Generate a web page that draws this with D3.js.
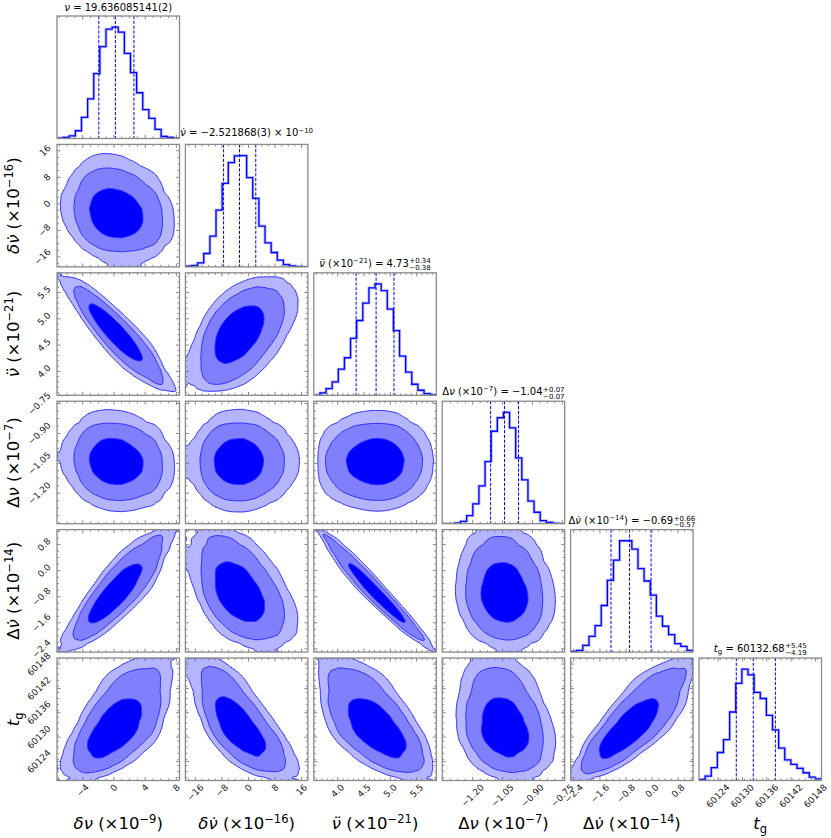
<!DOCTYPE html>
<html>
<head>
    <meta charset="utf-8">
    <title>Corner plot</title>
    <script type="text/javascript" src="https://cdn.jsdelivr.net/npm/d3@7"></script>
    <style type="text/css">
        html, body {
            margin: 0;
            background: #fff;
        }

        svg {
            display: block;
            font-family: "DejaVu Sans", sans-serif;
        }
    </style>
</head>

<body>

<svg id="chart" width="831" height="838"></svg>

<script type="text/javascript">
    // parameter ranges (same for x and y), quantile lines, ticks
    var ranges = [[-7.3, 8.4], [-19.0, 17.9], [3.545, 5.875], [-1.353, -0.738], [-2.5, 1.26], [60119.3, 60149.5]];
    var quantiles = [[-1.94, 0.18, 2.56], [-7.5, -2.7, 2.2], [4.35, 4.73, 5.07],
                     [-1.11, -1.04, -0.97], [-1.26, -0.69, -0.03], [60128.49, 60132.68, 60138.13]];
    var tickValues = [[-4, 0, 4, 8], [-16, -8, 0, 8, 16], [4.0, 4.5, 5.0, 5.5],
                      [-1.20, -1.05, -0.90, -0.75], [-2.4, -1.6, -0.8, 0.0, 0.8], [60124, 60130, 60136, 60142, 60148]];
    var tickLabels = [["−4", "0", "4", "8"], ["−16", "−8", "0", "8", "16"], ["4.0", "4.5", "5.0", "5.5"],
                      ["−1.20", "−1.05", "−0.90", "−0.75"], ["−2.4", "−1.6", "−0.8", "0.0", "0.8"],
                      ["60124", "60130", "60136", "60142", "60148"]];
    var minorSteps = [1, 2, 0.1, 0.0375, 0.2, 1.5];

    // 1D histogram counts, 20 bins over each range
    var hist0 = [1, 3, 8, 23, 63, 118, 193, 273, 325, 331, 316, 253, 196, 136, 86, 60, 27, 6, 3, 0];
    var hist1 = [2, 4, 12, 40, 92, 170, 250, 312, 332, 333, 267, 205, 122, 72, 43, 20, 7, 3, 1, 0];
    var hist2 = [0, 7, 20, 40, 78, 112, 170, 223, 275, 320, 332, 312, 257, 193, 117, 69, 33, 15, 5, 1];
    var hist3 = [0, 0, 2, 7, 24, 59, 112, 184, 274, 314, 330, 284, 195, 130, 67, 34, 9, 4, 1, 0];
    var hist4 = [2, 5, 20, 47, 79, 139, 214, 274, 332, 332, 307, 249, 212, 170, 107, 77, 52, 25, 17, 5];
    var hist5 = [3, 13, 38, 83, 121, 203, 288, 330, 313, 261, 243, 193, 150, 96, 61, 48, 36, 23, 10, 5];
    var histograms = [hist0, hist1, hist2, hist3, hist4, hist5];

    // pairwise correlations (row param vs column param)
    var correlations = [
        [],
        [-0.15],
        [-0.9, 0.5],
        [-0.1, 0.0, 0.0],
        [0.85, -0.45, -0.97, -0.1],
        [0.6, -0.7, -0.62, -0.22, 0.8]
    ];
    var contourLevels = [0.675, 0.965, 0.996];

    // text pieces: [text, kind]
    var axisLabels = [
        [["δν", "i"], [" (×10", "r"], ["−9", "sup"], [")", "r"]],
        [["δν̇", "i"], [" (×10", "r"], ["−16", "sup"], [")", "r"]],
        [["ν̈", "i"], [" (×10", "r"], ["−21", "sup"], [")", "r"]],
        [["Δ", "r"], ["ν", "i"], [" (×10", "r"], ["−7", "sup"], [")", "r"]],
        [["Δ", "r"], ["ν̇", "i"], [" (×10", "r"], ["−14", "sup"], [")", "r"]],
        [["t", "i"], ["g", "sub"]]
    ];
    var titles = [
        [["ν", "i"], [" = 19.636085141(2)", "r"]],
        [["ν̇", "i"], [" = −2.521868(3) × 10", "r"], ["−10", "sup"]],
        [["ν̈", "i"], [" (×10", "r"], ["−21", "sup"], [") = 4.73", "r"]],
        [["Δ", "r"], ["ν", "i"], [" (×10", "r"], ["−7", "sup"], [") = −1.04", "r"]],
        [["Δ", "r"], ["ν̇", "i"], [" (×10", "r"], ["−14", "sup"], [") = −0.69", "r"]],
        [["t", "i"], ["g", "sub"], [" = 60132.68", "r"]]
    ];
    var titleErrors = [null, null, ["+0.34", "−0.38"], ["+0.07", "−0.07"], ["+0.66", "−0.57"], ["+5.45", "−4.19"]];

    var gridLeft = 57, gridTop = 16, step = 128.4, size = 122.5, M = 90;
    var titleGap = [5.5, 8, 6, 6, 5.5, 6.5];
    var fills = ["#b4b4ff", "#8080ff", "#0000ff"];
    var frameColor = "#8a8a8a", tickColor = "#6a6a6a";

    var svg = d3.select("#chart");
    var defs = svg.append("defs");

    function normInv(p) {
        var a = [-3.969683028665376e+01, 2.209460984245205e+02, -2.759285104469687e+02, 1.383577518672690e+02, -3.066479806614716e+01, 2.506628277459239e+00];
        var b = [-5.447609879822406e+01, 1.615858368580409e+02, -1.556989798598866e+02, 6.680131188771972e+01, -1.328068155288572e+01];
        var c = [-7.784894002430293e-03, -3.223964580411365e-01, -2.400758277161838e+00, -2.549732539343734e+00, 4.374664141464968e+00, 2.938163982698783e+00];
        var d = [7.784695709041462e-03, 3.224671290700398e-01, 2.445134137142996e+00, 3.754408661907416e+00];
        var q, r;
        if (p < 0.02425) {
            q = Math.sqrt(-2 * Math.log(p));
            return (((((c[0] * q + c[1]) * q + c[2]) * q + c[3]) * q + c[4]) * q + c[5]) / ((((d[0] * q + d[1]) * q + d[2]) * q + d[3]) * q + 1);
        }
        if (p > 1 - 0.02425) {
            q = Math.sqrt(-2 * Math.log(1 - p));
            return -(((((c[0] * q + c[1]) * q + c[2]) * q + c[3]) * q + c[4]) * q + c[5]) / ((((d[0] * q + d[1]) * q + d[2]) * q + d[3]) * q + 1);
        }
        q = p - 0.5;
        r = q * q;
        return (((((a[0] * r + a[1]) * r + a[2]) * r + a[3]) * r + a[4]) * r + a[5]) * q / (((((b[0] * r + b[1]) * r + b[2]) * r + b[3]) * r + b[4]) * r + 1);
    }

    // smooth marginal pdf/cdf from the histogram counts
    function makeMarginal(counts, range) {
        var n = counts.length, lo = range[0], hi = range[1], w = (hi - lo) / n;
        var centers = counts.map(function(c, k){ return lo + (k + 0.5) * w; });
        var pdf = d3.scaleLinear().domain(centers).range(counts.map(function(c){ return c + 0.5; })).clamp(true);
        var K = 400;
        var gx = d3.range(K + 1).map(function(k){ return lo + k * (hi - lo) / K; });
        var cum = [0];
        for (var k = 1; k <= K; k++) cum.push(cum[k - 1] + 0.5 * (pdf(gx[k - 1]) + pdf(gx[k])));
        var total = cum[K];
        var cdf = d3.scaleLinear().domain(gx).range(cum.map(function(v){ return v / total; })).clamp(true);
        return {pdf: pdf, cdf: cdf};
    }

    var marginals = histograms.map(function(h, k){ return makeMarginal(h, ranges[k]); });

    function clampP(p) { return Math.min(1 - 1e-6, Math.max(1e-6, p)); }

    function pairDensity(i, j) {
        var mx = marginals[j], my = marginals[i], rho = correlations[i][j];
        var rx = ranges[j], ry = ranges[i];
        var gx = d3.range(M).map(function(k){ return rx[0] + (k + 0.5) / M * (rx[1] - rx[0]); });
        var gy = d3.range(M).map(function(k){ return ry[0] + (k + 0.5) / M * (ry[1] - ry[0]); });
        var ux = gx.map(function(x){ return normInv(clampP(mx.cdf(x))); });
        var uy = gy.map(function(y){ return normInv(clampP(my.cdf(y))); });
        var fx = gx.map(mx.pdf), fy = gy.map(my.pdf);
        var s = 1 - rho * rho, values = new Array(M * M);
        for (var r = 0; r < M; r++) {
            for (var c = 0; c < M; c++) {
                var u = ux[c], v = uy[r];
                values[r * M + c] = fx[c] * fy[r] * Math.exp(-(rho * rho * (u * u + v * v) - 2 * rho * u * v) / (2 * s)) / Math.sqrt(s);
            }
        }
        return values;
    }

    function levelThresholds(values) {
        var sorted = values.slice().sort(function(a, b){ return b - a; });
        var total = d3.sum(sorted), cum = [], acc = 0;
        sorted.forEach(function(v){ acc += v; cum.push(acc / total); });
        return contourLevels.map(function(l){
            return sorted[Math.min(sorted.length - 1, d3.bisectLeft(cum, l))];
        }).sort(d3.ascending);
    }

    function addSegments(text, segs, fs) {
        var shift = 0;
        segs.forEach(function(s){
            var t = text.append("tspan").text(s[0]);
            var target = s[1] === "sup" ? -0.38 * fs : (s[1] === "sub" ? 0.22 * fs : 0);
            t.attr("dy", target - shift);
            shift = target;
            if (s[1] === "sup" || s[1] === "sub") t.attr("font-size", 0.7 * fs);
            if (s[1] === "i") t.attr("font-style", "italic");
        });
    }

    function minorValues(k) {
        var lo = ranges[k][0], hi = ranges[k][1], s = minorSteps[k];
        return d3.range(Math.ceil(lo / s), Math.floor(hi / s) + 1).map(function(m){ return m * s; })
            .filter(function(v){
                return !tickValues[k].some(function(t){ return Math.abs(t - v) < s / 10; });
            });
    }

    function drawXTicks(g, scale, k, y0, y1) {
        [[tickValues[k], 3.5], [minorValues(k), 2]].forEach(function(set){
            set[0].forEach(function(v){
                var x = scale(v);
                g.append("line").attr("x1", x).attr("x2", x).attr("y1", y1).attr("y2", y1 - set[1])
                    .attr("stroke", tickColor).attr("stroke-width", 0.8);
                g.append("line").attr("x1", x).attr("x2", x).attr("y1", y0).attr("y2", y0 + set[1])
                    .attr("stroke", tickColor).attr("stroke-width", 0.8);
            });
        });
    }

    function drawYTicks(g, scale, k, x0, x1) {
        [[tickValues[k], 3.5], [minorValues(k), 2]].forEach(function(set){
            set[0].forEach(function(v){
                var y = scale(v);
                g.append("line").attr("y1", y).attr("y2", y).attr("x1", x0).attr("x2", x0 + set[1])
                    .attr("stroke", tickColor).attr("stroke-width", 0.8);
                g.append("line").attr("y1", y).attr("y2", y).attr("x1", x1).attr("x2", x1 - set[1])
                    .attr("stroke", tickColor).attr("stroke-width", 0.8);
            });
        });
    }

    function rotatedLabel(g, txt) {
        var t = g.append("text").text(txt)
            .attr("font-size", 9).attr("fill", "#222")
            .attr("text-anchor", "middle").attr("dominant-baseline", "central");
        var w = t.node().getComputedTextLength();
        return {sel: t, half: (w + 8) / (2 * Math.SQRT2)};
    }

    var line = d3.line()
        .x(function(d){ return d.x; })
        .y(function(d){ return d.y; });

    for (var i = 0; i < 6; i++) {
        for (var j = 0; j <= i; j++) {
            var px = gridLeft + j * step, py = gridTop + i * step;
            var g = svg.append("g");
            var clipId = "clip-" + i + "-" + j;
            defs.append("clipPath").attr("id", clipId)
                .append("rect").attr("x", px).attr("y", py).attr("width", size).attr("height", size);
            var inner = g.append("g").attr("clip-path", "url(#" + clipId + ")");
            var xs = d3.scaleLinear().domain(ranges[j]).range([px, px + size]);

            if (i === j) {
                var counts = histograms[i], n = counts.length;
                var hs = d3.scaleLinear().domain([0, 1.1 * d3.max(counts)]).range([py + size, py]);
                var edges = d3.range(n + 1).map(function(k){ return ranges[i][0] + k * (ranges[i][1] - ranges[i][0]) / n; });
                var pts = [{x: xs(edges[0]), y: hs(0)}];
                counts.forEach(function(c, k){
                    pts.push({x: xs(edges[k]), y: hs(c)}, {x: xs(edges[k + 1]), y: hs(c)});
                });
                pts.push({x: xs(edges[n]), y: hs(0)});
                inner.append("path").attr("d", line(pts)).attr("fill", "none")
                    .attr("stroke", "#8f8fff").attr("stroke-opacity", 0.6).attr("stroke-width", 3);
                inner.append("path").attr("d", line(pts)).attr("fill", "none")
                    .attr("stroke", "#0000ff").attr("stroke-width", 1.3);
                quantiles[i].forEach(function(q){
                    inner.append("line").attr("x1", xs(q)).attr("x2", xs(q))
                        .attr("y1", py).attr("y2", py + size)
                        .attr("stroke", "#0000ff").attr("stroke-width", 1)
                        .attr("stroke-dasharray", "3.2,1.6");
                });
                drawXTicks(g, xs, j, py, py + size);

                // title
                var tg = g.append("g");
                var tt = tg.append("text").attr("font-size", 10).attr("fill", "#000").attr("x", 0).attr("y", 0);
                addSegments(tt, titles[i], 10);
                var tw = tt.node().getComputedTextLength(), extra = 0;
                if (titleErrors[i]) {
                    var sp = tg.append("text").text(titleErrors[i][0]).attr("font-size", 7)
                        .attr("x", tw + 0.5).attr("y", -3.4);
                    var sb = tg.append("text").text(titleErrors[i][1]).attr("font-size", 7)
                        .attr("x", tw + 0.5).attr("y", 3.3);
                    extra = 0.5 + Math.max(sp.node().getComputedTextLength(), sb.node().getComputedTextLength());
                }
                tg.attr("transform", "translate(" + (px + size / 2 - (tw + extra) / 2) + "," + (py - titleGap[i]) + ")");
            } else {
                var ys = d3.scaleLinear().domain(ranges[i]).range([py + size, py]);
                var values = pairDensity(i, j);
                var th = levelThresholds(values);
                var rx = ranges[j], ry = ranges[i];
                var proj = (function(xs, ys, rx, ry){
                    return d3.geoTransform({
                        point: function(x, y){
                            this.stream.point(xs(rx[0] + x / M * (rx[1] - rx[0])), ys(ry[0] + y / M * (ry[1] - ry[0])));
                        }
                    });
                })(xs, ys, rx, ry);
                var path = d3.geoPath(proj);
                var polys = d3.contours().size([M, M]).smooth(true).thresholds(th)(values);
                inner.selectAll("path.level").data(polys).enter().append("path")
                    .attr("class", "level")
                    .attr("d", path)
                    .attr("fill", function(d, k){ return fills[k]; })
                    .attr("stroke", "#2a2aff")
                    .attr("stroke-width", 1);
                drawXTicks(g, xs, j, py, py + size);
                drawYTicks(g, ys, i, px, px + size);

                if (j === 0) {
                    tickValues[i].forEach(function(v, k){
                        var lab = rotatedLabel(g, tickLabels[i][k]);
                        lab.sel.attr("transform", "translate(" + (px - 5 - lab.half) + "," + ys(v) + ") rotate(-45)");
                    });
                }
            }

            g.append("rect").attr("x", px).attr("y", py).attr("width", size).attr("height", size)
                .attr("fill", "none").attr("stroke", frameColor).attr("stroke-width", 1.3);

            if (i === 5) {
                tickValues[j].forEach(function(v, k){
                    var lab = rotatedLabel(g, tickLabels[j][k]);
                    lab.sel.attr("transform", "translate(" + xs(v) + "," + (py + size + 2.5 + lab.half) + ") rotate(-45)");
                });
            }
        }
    }

    // axis labels
    axisLabels.forEach(function(segs, k){
        var bx = svg.append("text").attr("font-size", 16.5).attr("text-anchor", "middle")
            .attr("transform", "translate(" + (gridLeft + k * step + size / 2) + ",829)");
        addSegments(bx, segs, 16.5);
        if (k > 0) {
            var ly = svg.append("text").attr("font-size", 16.5).attr("text-anchor", "middle")
                .attr("transform", "translate(19," + (gridTop + k * step + size / 2) + ") rotate(-90)");
            addSegments(ly, segs, 16.5);
        }
    });
</script>

</body>

</html>
